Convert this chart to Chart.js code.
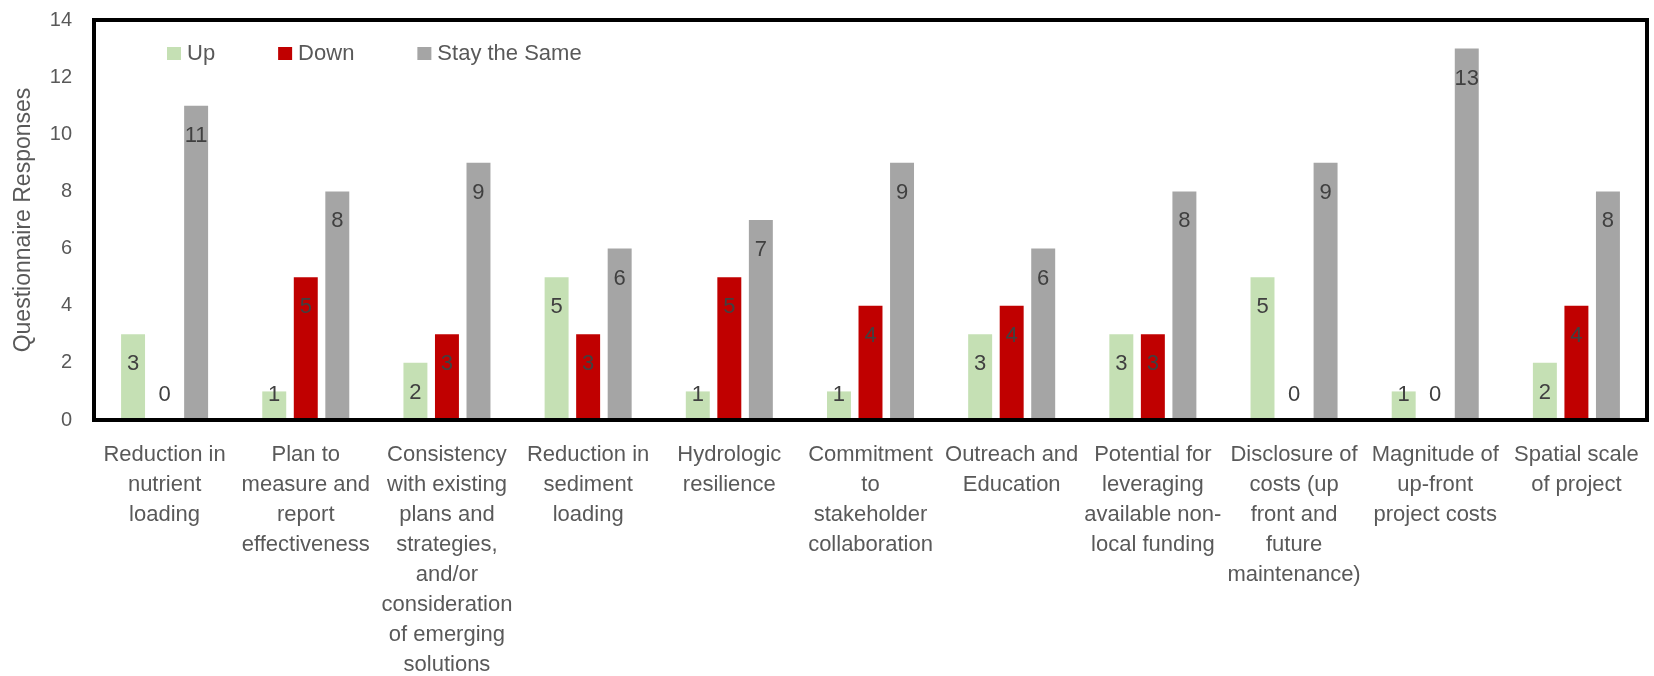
<!DOCTYPE html>
<html>
<head>
<meta charset="utf-8">
<title>Questionnaire Responses</title>
<script src="https://cdn.jsdelivr.net/npm/chart.js@4.4.1/dist/chart.umd.min.js"></script>
<style>
  html, body { margin: 0; padding: 0; background: #ffffff; }
  #wrap { width: 1654px; height: 676px; }
</style>
</head>
<body>
<div id="wrap"><canvas id="chart" width="1654" height="676"></canvas></div>
<script>
// Criteria (each wrapped over several lines)
const categories = [
  ["Reduction in", "nutrient", "loading"],
  ["Plan to", "measure and", "report", "effectiveness"],
  ["Consistency", "with existing", "plans and", "strategies,", "and/or", "consideration", "of emerging", "solutions"],
  ["Reduction in", "sediment", "loading"],
  ["Hydrologic", "resilience"],
  ["Commitment", "to", "stakeholder", "collaboration"],
  ["Outreach and", "Education"],
  ["Potential for", "leveraging", "available non-", "local funding"],
  ["Disclosure of", "costs (up", "front and", "future", "maintenance)"],
  ["Magnitude of", "up-front", "project costs"],
  ["Spatial scale", "of project"]
];

// Number of responses per criterion
const upValues   = [3, 1, 2, 5, 1, 1, 3, 3, 5, 1, 2];
const downValues = [0, 5, 3, 3, 5, 4, 4, 3, 0, 0, 4];
const sameValues = [11, 8, 9, 6, 7, 9, 6, 8, 9, 13, 8];

const seriesNames = ["Up", "Down", "Stay the Same"];
const yTicks = [0, 2, 4, 6, 8, 10, 12, 14];

const FONT = "'Liberation Sans', Arial, sans-serif";
const TEXT_GREY = "#595959";

// Black frame around the plot area
const framePlugin = {
  id: "frame",
  afterDatasetsDraw(chart) {
    const { ctx, chartArea: a } = chart;
    ctx.save();
    ctx.strokeStyle = "#000000";
    ctx.lineWidth = 4;
    ctx.strokeRect(a.left, a.top, a.right - a.left, a.bottom - a.top);
    ctx.restore();
  }
};

// Value written near the top of each bar
const valueLabelPlugin = {
  id: "valueLabels",
  afterDatasetsDraw(chart) {
    const { ctx } = chart;
    ctx.save();
    ctx.font = "22px " + FONT;
    ctx.fillStyle = "#404040";
    ctx.textAlign = "center";
    ctx.textBaseline = "middle";
    chart.data.datasets.forEach((ds, i) => {
      const meta = chart.getDatasetMeta(i);
      meta.data.forEach((bar, j) => {
        const y = Math.min(bar.y + 30, bar.base - 25);
        ctx.fillText(String(ds.data[j]), bar.x, y);
      });
    });
    ctx.restore();
  }
};

// Legend inside the plot, upper left
const innerLegendPlugin = {
  id: "innerLegend",
  afterDraw(chart) {
    const { ctx } = chart;
    ctx.save();
    ctx.font = "22px " + FONT;
    ctx.textBaseline = "middle";
    ctx.textAlign = "left";
    let x = 167;
    const cy = 54;
    chart.data.datasets.forEach(ds => {
      ctx.fillStyle = ds.backgroundColor;
      ctx.fillRect(x, cy - 7, 14, 13);
      ctx.fillStyle = TEXT_GREY;
      const tx = x + 20;
      ctx.fillText(ds.label, tx, cy);
      x = tx + ctx.measureText(ds.label).width + 63;
    });
    ctx.restore();
  }
};

new Chart(document.getElementById("chart"), {
  type: "bar",
  data: {
    labels: categories,
    datasets: [
      { label: seriesNames[0], data: upValues,   backgroundColor: "#C5E0B4" },
      { label: seriesNames[1], data: downValues, backgroundColor: "#C00000" },
      { label: seriesNames[2], data: sameValues, backgroundColor: "#A5A5A5" }
    ]
  },
  options: {
    responsive: false,
    devicePixelRatio: 1,
    animation: false,
    layout: { padding: { left: 0, top: 20, right: 7, bottom: 0 } },
    datasets: { bar: { categoryPercentage: 0.67, barPercentage: 0.76 } },
    plugins: {
      legend: { display: false },
      tooltip: { enabled: false }
    },
    scales: {
      x: {
        grid: { display: false, drawTicks: false },
        border: { display: false },
        ticks: {
          autoSkip: false,
          maxRotation: 0,
          minRotation: 0,
          padding: 20,
          color: TEXT_GREY,
          font: { family: FONT, size: 22, lineHeight: 30 / 22 }
        },
        afterFit(scale) {
          scale.height = 256;
          scale.paddingLeft = 0;
          scale.paddingRight = 0;
        }
      },
      y: {
        min: 0,
        max: 14,
        grid: { display: false, drawTicks: false },
        border: { display: false },
        afterBuildTicks(scale) { scale.ticks = yTicks.map(v => ({ value: v })); },
        ticks: {
          padding: 22,
          color: TEXT_GREY,
          font: { family: FONT, size: 20 }
        },
        title: {
          display: true,
          text: "Questionnaire Responses",
          color: TEXT_GREY,
          padding: { top: 10, bottom: 0 },
          font: { family: FONT, size: 23, lineHeight: 1.2 }
        },
        afterFit(scale) {
          scale.width = 94;
          scale.paddingTop = 0;
          scale.paddingBottom = 0;
        }
      }
    }
  },
  plugins: [framePlugin, valueLabelPlugin, innerLegendPlugin]
});
</script>
</body>
</html>
